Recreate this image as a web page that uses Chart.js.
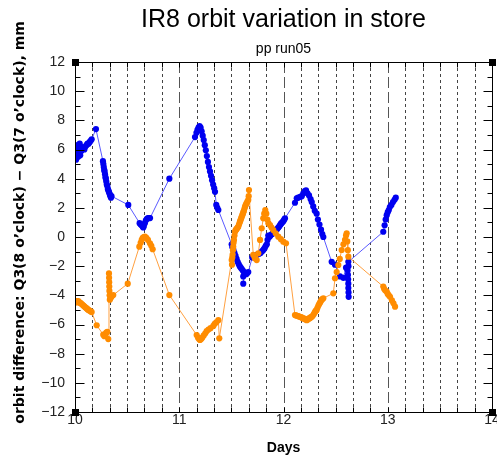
<!DOCTYPE html>
<html><head><meta charset="utf-8">
<script src="https://cdn.jsdelivr.net/npm/chart.js@4/dist/chart.umd.min.js"></script>
<style>html,body{margin:0;padding:0;background:#fff}canvas{display:block}</style>
</head><body>
<canvas id="c" width="497" height="460"></canvas>
<script>
const chartTitle = 'IR8 orbit variation in store';
const chartSubtitle = 'pp run05';
const xAxisTitle = 'Days';
const yAxisTitle = 'orbit difference: Q3(8 o\u2019clock) \u2212 Q3(7 o\u2019clock), mm';
const xTickLabels = [10, 11, 12, 13, 14];
const yTickLabels = [-12, -10, -8, -6, -4, -2, 0, 2, 4, 6, 8, 10, 12];

const blueDays = [10.000,10.005,10.010,10.015,10.020,10.025,10.030,10.035,10.040,10.045,10.050,10.055,10.060,10.070,10.080,10.090,10.100,10.110,10.120,10.130,10.140,10.150,10.160,10.201,
10.268,10.272,10.276,10.280,10.284,10.288,10.292,10.296,10.300,10.305,10.310,10.315,10.320,10.325,10.330,10.335,10.340,10.345,10.350,
10.511,
10.620,10.630,10.640,10.650,10.655,10.660,10.670,10.680,10.690,10.700,10.710,10.720,
10.905,
11.151,11.165,11.175,11.185,11.195,11.205,11.215,11.225,11.235,11.245,11.255,11.265,11.275,11.285,11.295,11.305,11.315,11.325,11.335,11.343,
11.355,11.365,11.375,
11.503,11.510,11.520,11.530,11.540,11.550,11.560,11.570,11.580,11.590,11.600,11.610,11.614,11.614,11.620,11.630,11.640,11.650,11.662,
11.700,11.710,11.720,11.735,11.750,11.765,11.780,11.790,11.800,11.810,11.820,11.830,11.840,11.847,11.854,11.862,11.870,11.880,11.890,11.900,11.910,11.920,11.930,11.940,11.950,11.958,11.966,11.973,11.980,11.990,12.000,12.007,12.014,
12.110,12.127,12.140,12.160,12.175,12.190,12.205,12.216,12.230,12.245,12.260,12.271,12.285,12.300,12.318,12.330,12.345,12.360,12.372,12.382,
12.462,12.494,12.542,12.574,12.600,12.615,12.618,12.620,12.622,12.622,12.624,12.625,12.623,12.622,
12.957,12.970,12.980,12.990,13.000,13.010,13.020,13.035,13.050,13.065,13.077];
const blueVals = [5.6,6.0,5.3,6.2,5.8,6.3,5.5,6.1,5.9,6.4,5.6,6.2,5.9,6.0,6.1,6.0,6.2,6.3,6.4,6.4,6.5,6.6,6.7,7.4,
5.2,5.0,4.8,4.6,4.5,4.3,4.1,4.0,3.8,3.6,3.5,3.3,3.2,3.1,3.0,2.9,2.8,2.7,2.8,
2.2,
0.95,0.85,0.8,0.7,0.65,0.75,0.95,1.15,1.25,1.3,1.3,1.3,
4.0,
6.85,7.15,7.35,7.5,7.6,7.5,7.25,6.95,6.65,6.3,5.95,5.55,5.15,4.8,4.5,4.2,3.9,3.6,3.35,3.1,
2.2,2.0,1.85,
-0.5,-0.7,-0.9,-1.1,-1.3,-1.5,-1.7,-1.85,-2.0,-2.1,-2.2,-2.3,-2.7,-3.2,-2.4,-2.5,-2.55,-2.5,-2.4,
-1.4,-1.35,-1.3,-1.25,-1.2,-1.15,-1.1,-1.0,-0.95,-0.85,-0.75,-0.6,-0.5,-0.2,0.1,0.0,0.05,0.15,0.2,0.25,0.3,0.4,0.5,0.55,0.65,0.72,0.8,0.88,0.95,1.02,1.1,1.2,1.28,
2.35,2.65,2.7,2.75,2.8,3.0,3.15,3.2,3.0,2.85,2.6,2.4,2.1,1.8,1.6,1.2,0.85,0.5,0.2,0.0,
-1.7,-1.9,-2.7,-2.8,-2.1,-2.3,-2.6,-2.9,-3.2,-3.5,-3.8,-4.1,-2.0,-1.7,
0.36,0.8,1.2,1.5,1.7,1.85,2.05,2.2,2.4,2.55,2.7];

const orangeDays = [10.000,10.008,10.016,10.024,10.032,10.040,10.048,10.056,10.064,10.072,10.080,10.088,10.096,10.104,10.112,10.120,10.128,10.140,10.152,10.160,
10.208,10.271,10.282,10.292,10.300,10.310,10.319,10.326,10.327,10.328,10.329,10.330,10.332,10.334,10.340,10.350,10.367,
10.506,10.617,10.630,10.640,10.650,10.660,10.671,10.685,10.700,10.719,10.732,10.745,
10.905,11.167,11.180,11.190,11.199,11.210,11.220,11.235,11.250,11.263,11.280,11.300,11.327,11.340,11.355,11.375,11.384,
11.503,11.506,11.509,11.512,11.515,11.518,11.521,11.525,11.530,11.535,11.540,11.545,11.550,11.555,11.560,11.566,11.573,11.580,11.585,11.590,11.595,11.599,11.605,11.610,11.615,11.620,11.626,11.631,11.638,11.645,11.653,11.662,11.666,11.669,
11.710,11.725,11.743,11.758,11.775,11.791,11.806,11.815,11.825,11.835,11.845,11.855,11.871,11.885,11.902,11.925,11.950,11.975,11.998,12.024,
12.110,12.120,12.130,12.140,12.150,12.158,12.170,12.180,12.190,12.200,12.210,12.223,12.232,12.240,12.248,12.255,12.263,12.271,12.280,12.290,12.298,12.305,12.312,12.318,12.326,12.335,12.342,12.350,12.358,12.366,12.374,12.382,
12.478,12.494,12.510,12.526,12.540,12.558,12.575,12.590,12.600,12.606,12.612,12.617,12.622,
12.957,12.965,12.975,12.990,13.000,13.010,13.022,13.040,13.055,13.070];
const orangeVals = [-4.5,-4.4,-4.4,-4.45,-4.4,-4.5,-4.5,-4.55,-4.6,-4.65,-4.7,-4.75,-4.8,-4.85,-4.9,-4.95,-5.0,-5.05,-5.1,-5.15,
-6.05,-6.7,-6.8,-6.65,-6.55,-6.5,-7.0,-2.5,-2.8,-3.1,-3.4,-3.7,-4.0,-4.3,-4.2,-4.1,-3.98,
-3.2,-0.66,-0.4,-0.2,-0.05,0.0,0.02,-0.05,-0.2,-0.43,-0.6,-0.84,
-3.98,-6.72,-6.9,-7.0,-7.06,-7.0,-6.9,-6.75,-6.6,-6.45,-6.35,-6.25,-6.1,-5.95,-5.85,-5.7,-6.95,
-1.58,-1.9,-1.4,-1.2,-0.9,-0.66,-0.4,-0.2,0.1,0.36,0.45,0.5,0.55,0.6,0.65,0.7,0.85,1.0,1.1,1.2,1.3,1.39,1.5,1.6,1.7,1.8,1.95,2.08,2.2,2.3,2.42,2.54,2.8,3.22,
-1.23,-1.45,-1.58,-1.12,-0.2,0.6,1.28,1.6,1.85,1.6,1.2,0.95,0.82,0.65,0.48,0.25,0.02,-0.15,-0.32,-0.43,
-5.35,-5.38,-5.4,-5.42,-5.45,-5.47,-5.5,-5.55,-5.58,-5.6,-5.65,-5.7,-5.65,-5.6,-5.58,-5.55,-5.5,-5.47,-5.4,-5.3,-5.2,-5.1,-5.05,-5.0,-4.85,-4.7,-4.6,-4.5,-4.4,-4.3,-4.25,-4.2,
-3.86,-2.83,-2.4,-1.92,-1.5,-0.89,-0.5,-0.2,0.1,0.25,-0.3,-0.9,-1.35,
-3.4,-3.55,-3.65,-3.75,-3.9,-4.0,-4.1,-4.35,-4.55,-4.78];

const FONT = "'Liberation Sans', Arial, sans-serif";
const BOLDFONT = "'DejaVu Sans', 'Liberation Sans', sans-serif";
const toPts = (xs, ys) => xs.map((x, i) => ({x: x, y: ys[i]}));

const framePlugin = {
  id: 'frame',
  beforeDatasetsDraw(chart) {
    const {ctx, chartArea: a, scales: {x}} = chart;
    ctx.save();
    ctx.lineWidth = 1;
    const n = (xTickLabels[xTickLabels.length - 1] - xTickLabels[0]) * 6;
    for (let k = 1; k < n; k++) {
      const px = Math.round(x.getPixelForValue(xTickLabels[0] + k / 6)) + 0.5;
      const day = k % 6 === 0;
      ctx.strokeStyle = day ? '#555' : '#444';
      ctx.setLineDash(day ? [11, 4] : [3, 3]);
      ctx.beginPath(); ctx.moveTo(px, a.top); ctx.lineTo(px, a.bottom); ctx.stroke();
    }
    ctx.restore();
  },
  afterDatasetsDraw(chart) {
    const {ctx, chartArea: a, scales: {x, y}} = chart;
    ctx.save();
    ctx.strokeStyle = '#000'; ctx.lineWidth = 1; ctx.setLineDash([]);
    const L = Math.round(a.left) + 0.5, R = Math.round(a.right) + 0.5;
    const T = Math.round(a.top) + 0.5, B = Math.round(a.bottom) + 0.5;
    ctx.strokeRect(L, T, R - L, B - T);
    ctx.beginPath();
    for (let v = yTickLabels[0]; v <= yTickLabels[yTickLabels.length - 1]; v++) {
      const py = Math.round(y.getPixelForValue(v)) + 0.5;
      const len = v % 2 === 0 ? 9 : 5;
      ctx.moveTo(L, py); ctx.lineTo(L + len, py);
      ctx.moveTo(R, py); ctx.lineTo(R - len, py);
    }
    const n = (xTickLabels[xTickLabels.length - 1] - xTickLabels[0]) * 6;
    for (let k = 0; k <= n; k++) {
      const px = Math.round(x.getPixelForValue(xTickLabels[0] + k / 6)) + 0.5;
      ctx.moveTo(px, T); ctx.lineTo(px, T + 5);
      ctx.moveTo(px, B); ctx.lineTo(px, B - 5);
    }
    ctx.stroke();
    ctx.fillStyle = '#000';
    [[L, T], [R, T], [L, B], [R, B]].forEach(([cx, cy]) => ctx.fillRect(cx - 3.5, cy - 3.5, 7, 7));
    ctx.restore();
  }
};

new Chart(document.getElementById('c'), {
  type: 'scatter',
  data: {
    datasets: [
      {label: 'Q3 orange', data: toPts(orangeDays, orangeVals), showLine: true,
       borderColor: '#ffa040', borderWidth: 1, backgroundColor: '#ff8c00',
       pointBackgroundColor: '#ff8c00', pointBorderWidth: 0, pointRadius: 3.1},
      {label: 'Q3 blue', data: toPts(blueDays, blueVals), showLine: true,
       borderColor: '#5a5aff', borderWidth: 1, backgroundColor: '#0000f0',
       pointBackgroundColor: '#0000f0', pointBorderWidth: 0, pointRadius: 3.1}
    ]
  },
  options: {
    responsive: false, animation: false, devicePixelRatio: 1,
    layout: {padding: {left: 0, right: 5, top: 0, bottom: 0}},
    plugins: {
      legend: {display: false}, tooltip: {enabled: false},
      title: {display: true, text: chartTitle, fullSize: false, color: '#000',
              font: {family: FONT, size: 25, weight: 'normal'}, padding: {top: 5, bottom: 2}},
      subtitle: {display: true, text: chartSubtitle, fullSize: false, color: '#000',
              font: {family: FONT, size: 14, weight: 'normal'}, padding: {top: 3.6, bottom: 4.6}}
    },
    scales: {
      x: {type: 'linear', position: 'bottom', min: xTickLabels[0], max: xTickLabels[xTickLabels.length - 1],
          afterBuildTicks: s => { s.ticks = xTickLabels.map(v => ({value: v})); },
          ticks: {color: '#222', font: {family: FONT, size: 14}, padding: 0, maxRotation: 0,
                  callback: v => String(v)},
          grid: {display: false, drawTicks: false}, border: {display: false},
          title: {display: true, text: xAxisTitle, color: '#000', font: {family: FONT, size: 14, weight: 'bold'},
                  padding: {top: 0, bottom: 3.5}},
          afterFit: s => { s.height = 48; s.paddingLeft = 0; s.paddingRight = 0; }},
      y: {type: 'linear', min: yTickLabels[0], max: yTickLabels[yTickLabels.length - 1],
          afterBuildTicks: s => { s.ticks = yTickLabels.map(v => ({value: v})); },
          ticks: {color: '#222', font: {family: FONT, size: 14}, padding: 10,
                  callback: v => String(v).replace('-', '\u2212')},
          grid: {display: false, drawTicks: false}, border: {display: false},
          title: {display: true, text: '      ' + yAxisTitle, color: '#000', font: {family: BOLDFONT, size: 14, weight: 'bold'},
                  padding: {top: 11.5, bottom: 0}},
          afterFit: s => { s.width = 75; }}
    }
  },
  plugins: [framePlugin]
});
</script>
</body></html>
